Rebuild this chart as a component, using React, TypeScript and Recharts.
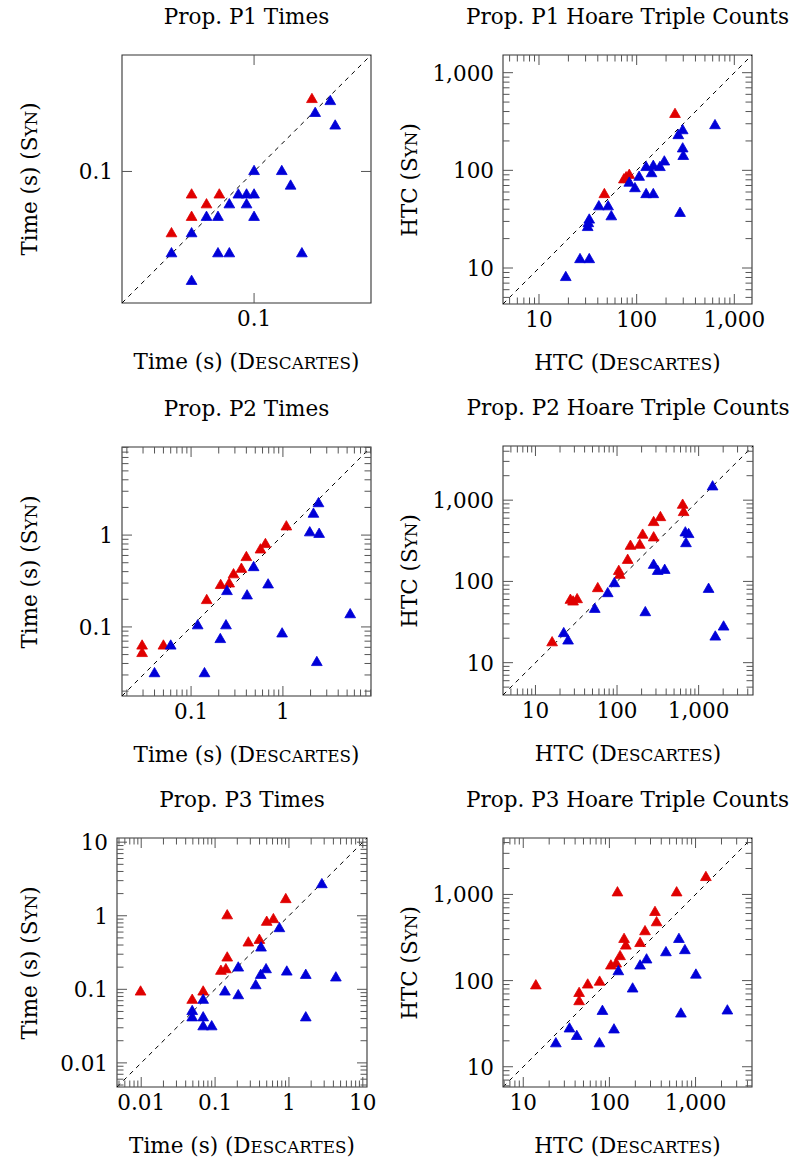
import React from 'react';
import { ScatterChart, Scatter, XAxis, YAxis, ReferenceLine, ReferenceArea } from 'recharts';

const FONT = '"DejaVu Serif", serif';
const FS = 21.5;
const RED = '#e00000';
const BLUE = '#0000d8';

type Pt = { x: number; y: number };
const pts = (rows: number[][]): Pt[] => rows.map(([x, y]) => ({ x, y }));

// Prop. P1 Times  [Descartes, Syn]
const p1TimeRed = pts([[0.19, 0.223], [0.05, 0.077], [0.068, 0.077], [0.059, 0.069], [0.05, 0.06], [0.04, 0.05]]);
const p1TimeBlue = pts([
  [0.233, 0.218], [0.197, 0.191], [0.246, 0.166], [0.1, 0.1], [0.136, 0.1], [0.15, 0.085],
  [0.084, 0.077], [0.092, 0.077], [0.1, 0.077], [0.076, 0.069], [0.092, 0.069], [0.059, 0.06],
  [0.067, 0.06], [0.1, 0.06], [0.05, 0.05], [0.04, 0.04], [0.067, 0.04], [0.076, 0.04],
  [0.17, 0.04], [0.05, 0.0294],
]);

// Prop. P1 Hoare Triple Counts
const p1HtcRed = pts([[247, 374], [46.7, 56.5], [74, 80], [84, 89], [78, 84]]);
const p1HtcBlue = pts([
  [634, 287], [296, 255], [267, 227], [296, 166], [300, 139], [192, 122], [173, 107], [148, 110],
  [125, 107], [142, 92.5], [106, 85], [84, 74], [96, 65], [125, 56.5], [148, 56.5], [278, 36.3],
  [41, 42.4], [51, 42.4], [55, 33.5], [32.7, 31], [32, 28.5], [31.5, 26], [26.3, 12.2],
  [32.7, 12.2], [18.8, 8],
]);

// Prop. P2 Times
const p2TimeRed = pts([
  [1.09, 1.23], [0.645, 0.79], [0.57, 0.69], [0.4, 0.57], [0.353, 0.425], [0.29, 0.37],
  [0.26, 0.294], [0.21, 0.283], [0.148, 0.194], [0.05, 0.062], [0.0293, 0.062], [0.0293, 0.0514],
]);
const p2TimeBlue = pts([
  [2.44, 2.2], [2.15, 1.69], [1.96, 1.06], [2.48, 1.02], [0.48, 0.443], [0.69, 0.287],
  [0.246, 0.243], [0.407, 0.218], [0.118, 0.103], [0.24, 0.103], [0.208, 0.073], [0.98, 0.084],
  [5.4, 0.136], [0.06, 0.062], [0.04, 0.031], [0.14, 0.031], [2.34, 0.041],
]);

// Prop. P2 Hoare Triple Counts
const p2HtcRed = pts([
  [16, 17.6], [26.8, 58.6], [28.9, 55.9], [32.4, 59.7], [58, 81.6], [105, 133], [108, 119],
  [135, 182], [146, 271], [190, 279], [206, 371], [281, 344], [281, 531], [340, 611],
  [637, 867], [655, 705],
]);
const p2HtcBlue = pts([
  [22.2, 22.8], [25.1, 18.5], [53.3, 45.4], [76.9, 70.8], [92.7, 94], [222, 41.3], [281, 158],
  [315, 133], [384, 137], [687, 396], [754, 378], [700, 292], [1483, 1459], [1325, 80],
  [2023, 27.5], [1600, 20.7],
]);

// Prop. P3 Times
const p3TimeRed = pts([
  [0.0098, 0.092], [0.049, 0.071], [0.069, 0.092], [0.12, 0.176], [0.14, 0.185], [0.146, 0.267],
  [0.146, 1.0], [0.282, 0.427], [0.398, 0.464], [0.5, 0.816], [0.616, 0.887], [0.906, 1.66],
]);
const p3TimeBlue = pts([
  [2.79, 2.65], [0.743, 0.669], [0.419, 0.365], [0.206, 0.195], [0.49, 0.185], [0.415, 0.155],
  [0.935, 0.172], [1.69, 0.155], [4.32, 0.143], [0.355, 0.112], [0.136, 0.092], [0.206, 0.082],
  [0.069, 0.071], [0.049, 0.05], [0.049, 0.041], [0.069, 0.041], [0.069, 0.031], [0.09, 0.031],
  [1.69, 0.041],
]);

// Prop. P3 Hoare Triple Counts
const p3HtcRed = pts([
  [1318, 1574], [603, 1045], [124, 1045], [338, 619], [353, 470], [259, 370], [148, 301],
  [155, 252], [227, 270], [133, 190], [120, 156], [104, 148], [77, 96], [56, 89], [44.5, 71],
  [44.5, 57], [14, 87],
]);
const p3HtcBlue = pts([
  [641, 301], [752, 223], [453, 211], [270, 174], [227, 148], [127, 127], [1009, 116], [186, 80],
  [83, 44], [676, 41], [2340, 44.5], [34.4, 27.5], [41.8, 22.5], [113, 26.8], [23.9, 18.5],
  [76.6, 18.5],
]);

// major tick values
const p1TimeTicks = [0.1];
const p2TimeTicks = [0.1, 1];
const p3TimeTicks = [0.01, 0.1, 1, 10];
const htcTicks = [10, 100, 1000];

const minorTicks = (lo: number, hi: number) => {
  const out: number[] = [];
  for (let e = Math.floor(Math.log10(lo)); e <= Math.ceil(Math.log10(hi)); e++) {
    for (let m = 2; m <= 9; m++) {
      const v = Number((m * Math.pow(10, e)).toPrecision(6));
      if (v > lo && v < hi) out.push(v);
    }
  }
  return out;
};

const fmt = (v: number) => (v >= 1000 ? v.toLocaleString('en-US') : String(v));

const PAD_L = 90;
const PAD_R = 26;
const PAD_T = 14;
const PAD_B = 46;
const Y_AXIS_W = 60;
const X_AXIS_H = 30;
const TICK_COLOR = '#555';

const Tri = (props: any) => {
  const { cx, cy, color } = props;
  if (cx == null || cy == null) return null;
  const r = 6.2;
  const d = `M${cx},${cy - r} L${cx + 0.866 * r},${cy + r / 2} L${cx - 0.866 * r},${cy + r / 2} Z`;
  return <path d={d} fill={color} stroke={color} strokeWidth={0.8} strokeLinejoin="round" />;
};

interface PanelCfg {
  title: string;
  xName: string;
  yName: string;
  left: number;
  top: number;
  w: number;
  h: number;
  lo: number;
  hi: number;
  major: number[];
  minor: boolean;
  red: Pt[];
  blue: Pt[];
  yLabelX: number;
}

const SmallCaps = ({ word }: { word: string }) => (
  <>
    {word[0]}
    <span style={{ fontSize: '0.78em' }}>{word.slice(1).toUpperCase()}</span>
  </>
);

function Panel({ cfg }: { cfg: PanelCfg }) {
  const { left, top, w, h, lo, hi, major, minor, red, blue } = cfg;
  const ticks = [...major, ...(minor ? minorTicks(lo, hi) : [])];
  const isMajor = (v: number) => major.includes(v);
  const topY = PAD_T;
  const bottomY = PAD_T + h;
  const leftX = PAD_L;
  const rightX = PAD_L + w;

  const xTick = (p: any) => {
    const { x, payload } = p;
    const v = payload.value;
    const len = isMajor(v) ? 10 : 6.5;
    return (
      <g>
        <line x1={x} x2={x} y1={bottomY} y2={bottomY - len} stroke={TICK_COLOR} strokeWidth={1} />
        <line x1={x} x2={x} y1={topY} y2={topY + len} stroke={TICK_COLOR} strokeWidth={1} />
        {isMajor(v) && (
          <text x={x} y={bottomY + 23} textAnchor="middle" fontFamily={FONT} fontSize={FS} fill="#000">
            {fmt(v)}
          </text>
        )}
      </g>
    );
  };

  const yTick = (p: any) => {
    const { y, payload } = p;
    const v = payload.value;
    const len = isMajor(v) ? 10 : 6.5;
    return (
      <g>
        <line x1={leftX} x2={leftX + len} y1={y} y2={y} stroke={TICK_COLOR} strokeWidth={1} />
        <line x1={rightX} x2={rightX - len} y1={y} y2={y} stroke={TICK_COLOR} strokeWidth={1} />
        {isMajor(v) && (
          <text x={leftX - 9} y={y + 8} textAnchor="end" fontFamily={FONT} fontSize={FS} fill="#000">
            {fmt(v)}
          </text>
        )}
      </g>
    );
  };

  return (
    <div style={{ position: 'absolute', left: left - PAD_L, top: top - PAD_T }}>
      <ScatterChart
        width={w + PAD_L + PAD_R}
        height={h + PAD_T + PAD_B}
        margin={{ top: PAD_T, right: PAD_R, left: PAD_L - Y_AXIS_W, bottom: PAD_B - X_AXIS_H }}
      >
        <XAxis
          type="number"
          dataKey="x"
          scale="log"
          domain={[lo, hi]}
          allowDataOverflow
          ticks={ticks}
          interval={0}
          tick={xTick}
          tickLine={false}
          axisLine={false}
          height={X_AXIS_H}
        />
        <YAxis
          type="number"
          dataKey="y"
          scale="log"
          domain={[lo, hi]}
          allowDataOverflow
          ticks={ticks}
          interval={0}
          tick={yTick}
          tickLine={false}
          axisLine={false}
          width={Y_AXIS_W}
        />
        <ReferenceLine
          segment={[{ x: lo, y: lo }, { x: hi, y: hi }]}
          stroke="#000"
          strokeWidth={1}
          strokeDasharray="4.5 4.5"
          ifOverflow="visible"
        />
        <Scatter data={red} fill={RED} shape={(p: any) => <Tri {...p} color={RED} />} isAnimationActive={false} />
        <Scatter data={blue} fill={BLUE} shape={(p: any) => <Tri {...p} color={BLUE} />} isAnimationActive={false} />
        <ReferenceArea
          x1={lo}
          x2={hi}
          y1={lo}
          y2={hi}
          fill="none"
          fillOpacity={0}
          stroke="#333"
          strokeWidth={1.1}
          ifOverflow="visible"
        />
      </ScatterChart>
    </div>
  );
}

const textBase: React.CSSProperties = {
  position: 'absolute',
  fontFamily: FONT,
  fontSize: FS,
  lineHeight: 1,
  whiteSpace: 'nowrap',
  color: '#000',
};

function Labels({ cfg }: { cfg: PanelCfg }) {
  const cx = cfg.left + cfg.w / 2;
  const cy = cfg.top + cfg.h / 2;
  return (
    <>
      <div style={{ ...textBase, left: cx, top: cfg.top - 38, transform: 'translate(-50%, -50%)' }}>{cfg.title}</div>
      <div style={{ ...textBase, left: cx, top: cfg.top + cfg.h + 59, transform: 'translate(-50%, -50%)' }}>
        {cfg.xName} (<SmallCaps word="Descartes" />)
      </div>
      <div
        style={{ ...textBase, left: cfg.yLabelX, top: cy, transform: 'translate(-50%, -50%) rotate(-90deg)' }}
      >
        {cfg.yName} (<SmallCaps word="Syn" />)
      </div>
    </>
  );
}

const panels: PanelCfg[] = [
  {
    title: 'Prop. P1 Times', xName: 'Time (s)', yName: 'Time (s)',
    left: 122, top: 55, w: 249, h: 248, lo: 0.0231, hi: 0.366, major: p1TimeTicks, minor: false,
    red: p1TimeRed, blue: p1TimeBlue, yLabelX: 30,
  },
  {
    title: 'Prop. P1 Hoare Triple Counts', xName: 'HTC', yName: 'HTC',
    left: 503, top: 55, w: 249, h: 249, lo: 4.28, hi: 1517, major: htcTicks, minor: true,
    red: p1HtcRed, blue: p1HtcBlue, yLabelX: 410,
  },
  {
    title: 'Prop. P2 Times', xName: 'Time (s)', yName: 'Time (s)',
    left: 122, top: 447, w: 249, h: 249, lo: 0.0177, hi: 9.1, major: p2TimeTicks, minor: true,
    red: p2TimeRed, blue: p2TimeBlue, yLabelX: 30,
  },
  {
    title: 'Prop. P2 Hoare Triple Counts', xName: 'HTC', yName: 'HTC',
    left: 503, top: 446, w: 250, h: 249, lo: 4.0, hi: 4640, major: htcTicks, minor: true,
    red: p2HtcRed, blue: p2HtcBlue, yLabelX: 410,
  },
  {
    title: 'Prop. P3 Times', xName: 'Time (s)', yName: 'Time (s)',
    left: 117, top: 838, w: 250, h: 249, lo: 0.0047, hi: 11.4, major: p3TimeTicks, minor: true,
    red: p3TimeRed, blue: p3TimeBlue, yLabelX: 30,
  },
  {
    title: 'Prop. P3 Hoare Triple Counts', xName: 'HTC', yName: 'HTC',
    left: 503, top: 838, w: 249, h: 249, lo: 5.82, hi: 4520, major: htcTicks, minor: true,
    red: p3HtcRed, blue: p3HtcBlue, yLabelX: 410,
  },
];

export default function App() {
  return (
    <div style={{ position: 'absolute', left: 0, top: 0, width: 792, height: 1163, background: '#fff' }}>
      {panels.map((cfg) => (
        <React.Fragment key={cfg.title}>
          <Panel cfg={cfg} />
          <Labels cfg={cfg} />
        </React.Fragment>
      ))}
    </div>
  );
}
